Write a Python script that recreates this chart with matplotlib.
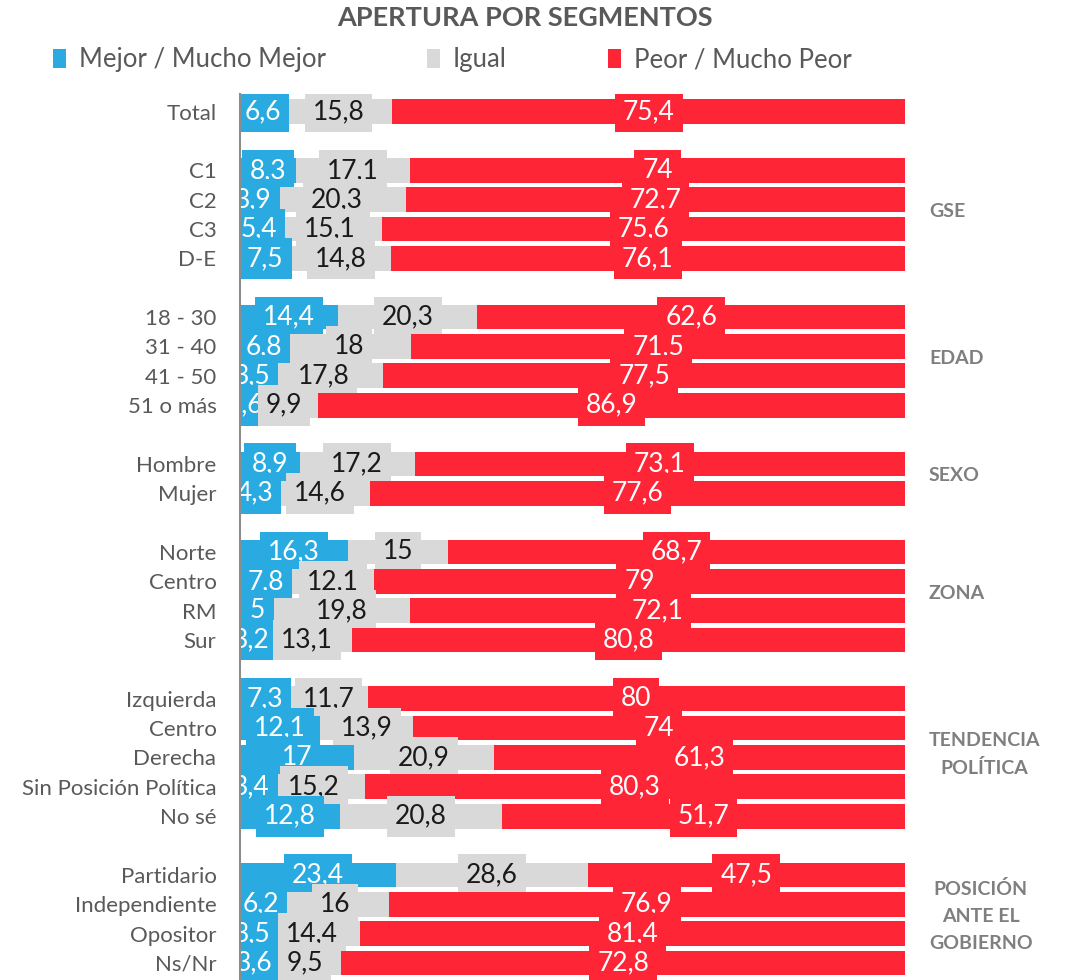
import matplotlib.pyplot as plt
from matplotlib.patches import Patch

plt.rcParams['font.family'] = ['Lato', 'DejaVu Sans']

# categories per group (top to bottom)
group_titles = ['', 'GSE', 'EDAD', 'SEXO', 'ZONA', 'TENDENCIA\nPOLÍTICA', 'POSICIÓN\nANTE EL\nGOBIERNO']
group_sizes = [1, 4, 4, 2, 4, 5, 4]

categories = ['Total',
              'C1', 'C2', 'C3', 'D-E',
              '18 - 30', '31 - 40', '41 - 50', '51 o más',
              'Hombre', 'Mujer',
              'Norte', 'Centro', 'RM', 'Sur',
              'Izquierda', 'Centro', 'Derecha', 'Sin Posición Política', 'No sé',
              'Partidario', 'Independiente', 'Opositor', 'Ns/Nr']

mejor = [6.6,
         8.3, 3.9, 5.4, 7.5,
         14.4, 6.8, 3.5, 1.6,
         8.9, 4.3,
         16.3, 7.8, 5, 3.2,
         7.3, 12.1, 17, 3.4, 12.8,
         23.4, 6.2, 3.5, 3.6]
igual = [15.8,
         17.1, 20.3, 15.1, 14.8,
         20.3, 18, 17.8, 9.9,
         17.2, 14.6,
         15, 12.1, 19.8, 13.1,
         11.7, 13.9, 20.9, 15.2, 20.8,
         28.6, 16, 14.4, 9.5]
peor = [75.4,
        74, 72.7, 75.6, 76.1,
        62.6, 71.5, 77.5, 86.9,
        73.1, 77.6,
        68.7, 79, 72.1, 80.8,
        80, 74, 61.3, 80.3, 51.7,
        47.5, 76.9, 81.4, 72.8]

series_names = ['Mejor / Mucho Mejor', 'Igual', 'Peor / Mucho Peor']
colors = ['#29ABE2', '#D9D9D9', '#FE2536']
text_colors = ['white', '#1a1a1a', 'white']

# row positions with a blank row between groups
positions = []
group_centers = []
p = 0
for n in group_sizes:
    rows = list(range(p, p + n))
    positions += rows
    group_centers.append((rows[0] + rows[-1]) / 2)
    p += n + 1


def fmt(v):
    return f'{v:g}'.replace('.', ',')


fig = plt.figure(figsize=(10.68, 9.8), dpi=100)
ax = fig.add_axes([240 / 1068, 0, 665 / 1068, 1 - 94 / 980])

for i, pos in enumerate(positions):
    vals = [mejor[i], igual[i], peor[i]]
    total = sum(vals)
    z = 2 + 2 * i
    left = 0
    for v, c in zip(vals, colors):
        w = v / total * 100
        ax.barh(pos, w, left=left, height=0.84, color=c, linewidth=0, zorder=z)
        left += w
    left = 0
    for v, c, tc in zip(vals, colors, text_colors):
        w = v / total * 100
        ax.text(left + w / 2, pos, fmt(v), ha='center', va='center', color=tc,
                fontsize=19, zorder=z + 1, clip_on=True,
                bbox=dict(boxstyle='square,pad=0.3', fc=c, ec='none'))
        left += w

ax.set_xlim(0, 100)
ax.set_ylim(29.58, -0.6)
ax.set_yticks(positions)
ax.set_yticklabels(categories, fontsize=16, color='#595959')
ax.tick_params(axis='y', length=0, pad=17)
ax.set_xticks([])
for s in ['top', 'right', 'bottom']:
    ax.spines[s].set_visible(False)
ax.spines['left'].set_color('#8c8c8c')
ax.spines['left'].set_linewidth(1.5)
ax.spines['left'].set_zorder(100)

# group labels on the right
for title, yc in zip(group_titles, group_centers):
    if not title:
        continue
    ax.text(1.036, yc - 0.1, title, transform=ax.get_yaxis_transform(),
            ha='left', va='center', ma='center', fontsize=14, fontweight='bold',
            color='#7F7F7F', linespacing=1.7, clip_on=False)

fig.text(525 / 1068, 1 - 18 / 980, 'APERTURA POR SEGMENTOS', ha='center', va='center',
         fontsize=19.5, fontweight='bold', color='#595959')

handles = [Patch(facecolor=c, edgecolor='none') for c in colors]
fig.legend(handles, series_names, ncol=3, loc='center left',
           bbox_to_anchor=(30 / 1068, 1 - 60 / 980), frameon=False,
           fontsize=18.5, handlelength=0.5, handleheight=0.8, handletextpad=0.5,
           columnspacing=3.95, labelcolor='#595959')

fig.savefig('out.png', dpi=100)
